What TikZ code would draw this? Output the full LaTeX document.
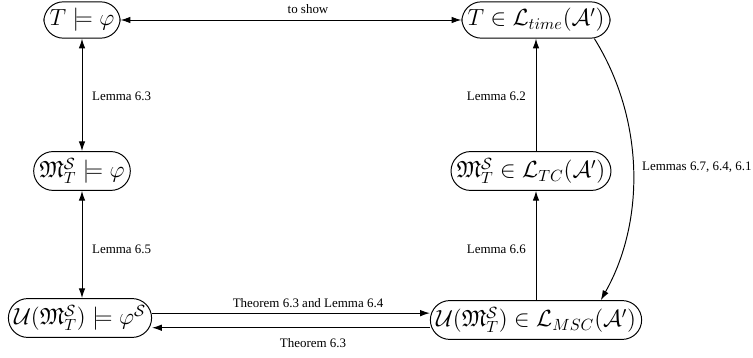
\documentclass[tikz,border=0pt]{standalone}
\usepackage{amssymb}
\usepackage{amsmath}
\usepackage[no-math]{fontspec}
\setmainfont{Liberation Serif}
\newfontfamily\lemmafont{Liberation Serif}
\usetikzlibrary{arrows.meta}

\begin{document}
\begin{tikzpicture}[x=0.617pt,y=-0.617pt,
  claim/.style={draw,rounded corners=12pt,inner xsep=3.5pt,inner ysep=4pt,font=\Large,line width=0.6pt},
  lbl/.style={font=\lemmafont\footnotesize,inner sep=1pt},
  >={Latex[length=6pt,width=4pt]}, line width=0.6pt]
\useasboundingbox (0,0) rectangle (753,358);

% statements
\node[claim] (tl) at (82,20) {$T \models \varphi$};
\node[claim] (tr) at (536,20) {$T \in \mathcal{L}_{time}(\mathcal{A}')$};
\node[claim] (ml) at (82,171) {$\mathfrak{M}_T^{\mathcal{S}} \models \varphi$};
\node[claim] (mr) at (531,171) {$\mathfrak{M}_T^{\mathcal{S}} \in \mathcal{L}_{TC}(\mathcal{A}')$};
\node[claim] (bl) at (80,318) {$\mathcal{U}(\mathfrak{M}_T^{\mathcal{S}}) \models \varphi^{\mathcal{S}}$};
\node[claim] (br) at (536,320) {$\mathcal{U}(\mathfrak{M}_T^{\mathcal{S}}) \in \mathcal{L}_{MSC}(\mathcal{A}')$};

% top row
\draw[<->] (tl) -- (tr);
\node[lbl] (show) at (308,9) {to show};

% left column
\draw[<->] (tl.south) -- (ml.north);
\draw[<->] (ml.south) -- (bl.north -| ml.south);
\node[lbl,anchor=west] (l63) at (90,96) {Lemma 6.3};
\node[lbl,anchor=west] (l65) at (90,249) {Lemma 6.5};

% right column
\draw[->] (br.north) -- (mr.south -| br.north);
\draw[->] (mr.north -| tr.south) -- (tr.south);
\node[lbl,anchor=east] (l62) at (528,96) {Lemma 6.2};
\node[lbl,anchor=east] (l66) at (528,249) {Lemma 6.6};

% the long way round
\draw[->] ([xshift=-10pt]tr.south east) .. controls (645,120) and (645,222) .. ([xshift=40pt]br.north);
\node[lbl,anchor=west] (l674) at (640,167) {Lemmas 6.7, 6.4, 6.1};

% bottom row
\draw[->] ([yshift=3pt]bl.east) -- ([yshift=3pt]bl.east -| br.west);
\draw[<-] ([yshift=-6pt]bl.east) -- ([yshift=-6pt]bl.east -| br.west);
\node[lbl] (t63a) at (308,303) {Theorem 6.3 and Lemma 6.4};
\node[lbl] (t63b) at (313,343) {Theorem 6.3};
\end{tikzpicture}
\end{document}
